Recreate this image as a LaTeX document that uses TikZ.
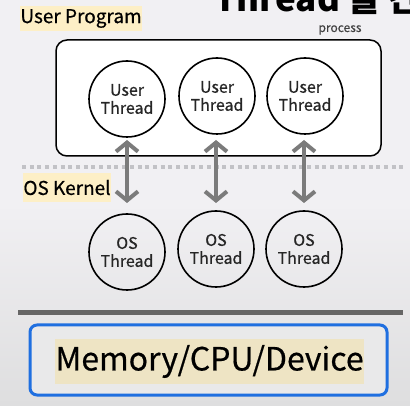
\documentclass[tikz,border=0pt]{standalone}
\usepackage{fontspec}
\setmainfont[FakeBold=0.5]{Noto Sans CJK KR}
\newfontfamily\krfont{Noto Sans CJK KR}
\usetikzlibrary{arrows.meta}
\definecolor{bgtop}{HTML}{F1F0F3}
\definecolor{bgbot}{HTML}{DEDEDF}
\definecolor{hlyellow}{HTML}{FDEFC6}
\definecolor{hlbeige}{HTML}{EEE4C4}
\definecolor{arrowgray}{HTML}{7B7B7B}
\definecolor{dotgray}{HTML}{C2C2C6}
\definecolor{sepgray}{HTML}{666666}
\definecolor{boxblue}{HTML}{1F6FE0}
\definecolor{memfill}{HTML}{E9E9EA}
\tikzset{
  thread/.style={circle, draw=black, line width=1.6pt, fill=none, minimum size=76pt, inner sep=0pt, align=center, font=\fontsize{16}{18}\selectfont, text=black!85},
  hl/.style={inner sep=0pt, anchor=center},
  dbl/.style={draw=arrowgray, line width=4pt, {Straight Barb[length=9pt,width=22pt,line width=4pt]}-{Straight Barb[length=9pt,width=22pt,line width=4pt]}},
}
\begin{document}
\begin{tikzpicture}[x=1pt,y=-1pt]
\useasboundingbox (0,0) rectangle (410,406);
\clip (0,0) rectangle (410,406);
\shade[top color=bgtop, bottom color=bgbot, middle color=bgtop] (0,0) rectangle (410,406);

% title (cropped at the top edge, as in the reference)
\node[anchor=base west, inner sep=0pt, font=\krfont\bfseries\fontsize{35}{35}\selectfont] (title) at (214,12) {Thread 들 간};

% User Program label
\node[hl, fill=hlyellow, minimum width=118pt, minimum height=25pt, font=\fontsize{19}{21}\selectfont] (userprog) at (81,18.5) {User Program};

% process label
\node[inner sep=0pt, text=black!75, font=\fontsize{12}{13}\selectfont] (proclabel) at (340,30) {process};

% process box
\draw[line width=1.5pt, fill=white, rounded corners=11pt] (56,40) rectangle (381,156);

% user threads
\node[thread] (u1) at (127,99) {User\\Thread};
\node[thread] (u2) at (217,96) {User\\Thread};
\node[thread] (u3) at (305,96) {User\\Thread};

% dotted separator
\draw[dotgray, line width=4pt, dash pattern=on 4pt off 3.7pt] (22,167.5) -- (405,167.5);

% OS Kernel label
\node[hl, fill=hlyellow, minimum width=87pt, minimum height=29pt, font=\fontsize{19}{21}\selectfont] (oskernel) at (67,187.5) {OS Kernel};

% OS threads
\node[thread] (o1) at (127,252) {OS\\Thread};
\node[thread] (o2) at (216,249) {OS\\Thread};
\node[thread] (o3) at (304,249) {OS\\Thread};

% arrows
\coordinate (a1t) at (127,140); \coordinate (a1b) at (127,203);
\coordinate (a2t) at (216,140); \coordinate (a2b) at (216,203);
\coordinate (a3t) at (304,140); \coordinate (a3b) at (304,203);
\draw[dbl] (a1t) -- (a1b);
\draw[dbl] (a2t) -- (a2b);
\draw[dbl] (a3t) -- (a3b);

% separator line
\draw[sepgray, line width=5pt] (18,313) -- (403,313);

% memory box
\draw[boxblue, line width=3pt, fill=memfill, rounded corners=7pt] (30,325) rectangle (387,395);
\node[hl, fill=hlbeige, minimum width=305pt, minimum height=45pt, font=\fontsize{32}{34}\selectfont] (mem) at (209.5,361.5) {Memory/CPU/Device};
\end{tikzpicture}
\end{document}
